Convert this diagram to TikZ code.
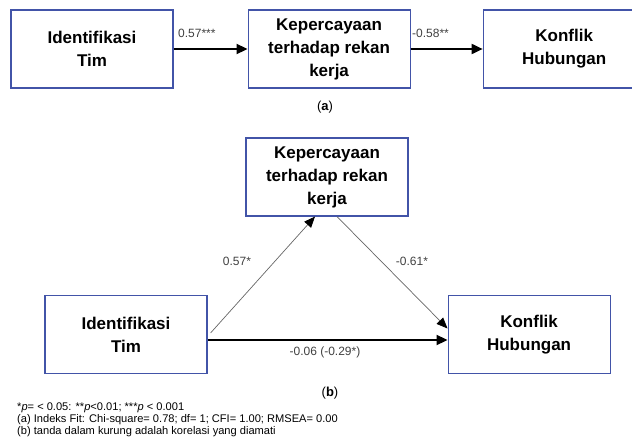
\documentclass[tikz,border=0pt]{standalone}
\usepackage{fontspec}
\setmainfont{Liberation Sans}
\usepackage{tikz}
\usetikzlibrary{positioning,calc,arrows.meta}
\definecolor{boxblue}{RGB}{66,84,168}

\begin{document}
\begin{tikzpicture}[x=1pt, y=-1pt, node distance=74pt,
    box/.style={draw=boxblue, line width=1.1pt, minimum width=162pt, minimum height=78pt, align=center, font=\bfseries\fontsize{17}{23}\selectfont},
    coef/.style={font=\fontsize{12}{13}\selectfont, text=black!75, inner sep=1pt},
    note/.style={font=\fontsize{11.1}{12}\selectfont, anchor=west, inner sep=0pt},
    pathhead/.style={-{Triangle[length=11pt,width=10pt]}, line width=1.9pt},
    diaghead/.style={-{Triangle[length=11pt,width=9pt,color=black]}, line width=0.7pt, draw=black!60}]
    \clip (0,0) rectangle (632,442);

    \node[box] (idA) at (92,49) {Identifikasi\\Tim};
    \node[box, right=of idA] (kpA) {Kepercayaan\\terhadap rekan\\kerja};
    \node[box, right=72pt of kpA] (kfA) {Konflik\\Hubungan};
    \draw[pathhead] (idA) -- (kpA);
    \draw[pathhead] (kpA) -- (kfA);
    \node[coef, anchor=west] (cA1) at (177,33) {0.57***};
    \node[coef, anchor=west] (cA2) at (411,33) {-0.58**};
    \node[font=\fontsize{13}{14}\selectfont] (capA) at (325,107) {(\textbf{a})};

    \node[box] (idB) at (126,334.5) {Identifikasi\\Tim};
    \node[box, right=240pt of idB] (kfB) {Konflik\\Hubungan};
    \node[box] (kpB) at (327,177) {Kepercayaan\\terhadap rekan\\kerja};
    \draw[diaghead] ([xshift=3pt,yshift=1.5pt]idB.east) -- ([xshift=-12pt]kpB.south);
    \draw[diaghead] ([xshift=10pt]kpB.south) -- ([yshift=6pt]kfB.west);
    \draw[pathhead] ([yshift=-5.5pt]idB.east) -- ([yshift=-5.5pt]kfB.west);
    \node[coef] (cB1) at (237,261) {0.57*};
    \node[coef] (cB2) at (412,261) {-0.61*};
    \node[coef] (cB3) at (325,352) {-0.06 (-0.29*)};
    \node[font=\fontsize{13}{14}\selectfont] (capB) at (330,393) {(\textbf{b})};

    \node[note] (n1) at (17,408) {*\textit{p}= < 0.05: **\textit{p}<0.01; ***\textit{p} < 0.001};
    \node[note] (n2) at (17,420) {(a) Indeks Fit: Chi-square= 0.78; df= 1; CFI= 1.00; RMSEA= 0.00};
    \node[note] (n3) at (17,432) {(b) tanda dalam kurung adalah korelasi yang diamati};
\end{tikzpicture}
\end{document}
